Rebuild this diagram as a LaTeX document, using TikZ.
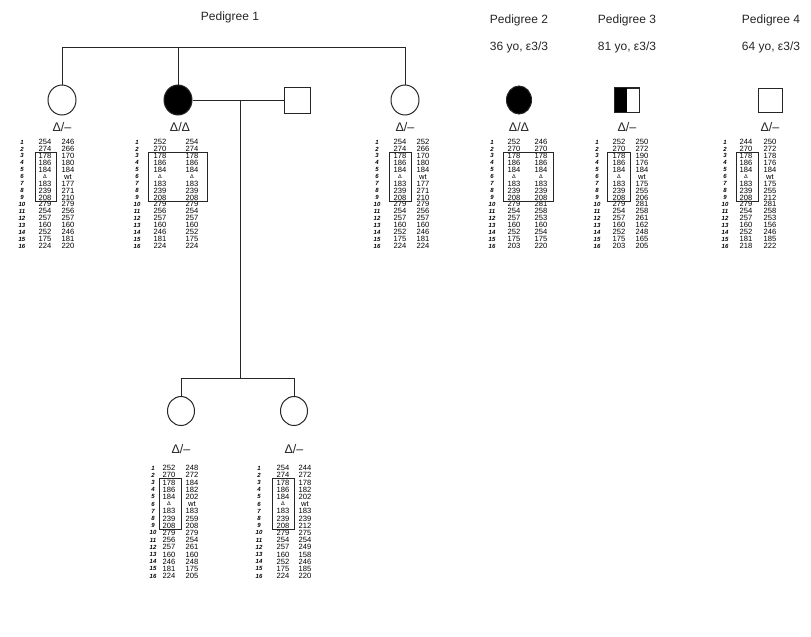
\documentclass[tikz,border=0pt]{standalone}
\usepackage{fontspec}
\setmainfont{Liberation Sans}
\usetikzlibrary{shapes.geometric}
\newcommand\dlt{{\fontsize{5.5}{6}\selectfont Δ}}
\newcommand\hapt[9]{%
  \foreach \a/\b [count=\i] in {#9} {
    \node[num] (#1n\i) at (#2, {#5+(\i-1)*#6}) {\i};
    \node[allele] (#1a\i) at (#3, {#5+(\i-1)*#6}) {\a};
    \node[allele] (#1b\i) at (#4, {#5+(\i-1)*#6}) {\b};
  }
  \draw[hbox] (#7,{#5+1.5*#6}) rectangle (#8,{#5+8.5*#6});
}
\tikzset{
  ped/.style={line width=1pt, draw=black!85},
  fem/.style={ellipse, draw=black!85, line width=1pt, minimum width=28pt, minimum height=30pt, inner sep=0pt},
  male/.style={rectangle, draw=black!85, line width=1pt, minimum width=26pt, minimum height=26pt, inner sep=0pt},
  title/.style={font=\fontsize{12}{13}\selectfont, inner sep=0pt, text=black!85},
  geno/.style={font=\fontsize{12.5}{13}\selectfont, inner sep=0pt, text=black!85},
  num/.style={font=\fontsize{6}{6}\selectfont\bfseries\itshape, inner sep=0pt},
  allele/.style={font=\fontsize{7.6}{7}\selectfont, inner sep=0pt},
  hbox/.style={line width=0.8pt, draw=black!85},
}
\begin{document}
\begin{tikzpicture}[x=1pt, y=-1pt]
\useasboundingbox[fill=white] (0,0) rectangle (811,637);

% titles
\node[title] (t1) at (230,17) {Pedigree 1};
\node[title] (t2) at (519,20) {Pedigree 2};
\node[title] (t3) at (627,20) {Pedigree 3};
\node[title] (t4) at (771,20) {Pedigree 4};
\node[title] (a2) at (519,47) {36 yo, ε3/3};
\node[title] (a3) at (627,47) {81 yo, ε3/3};
\node[title] (a4) at (771,47) {64 yo, ε3/3};

% Pedigree 1, generation II
\node[fem] (II1) at (62,100) {};
\node[fem, fill=black] (II2) at (178,100) {};
\node[male] (II3) at (297,100) {};
\node[fem] (II4) at (405,100) {};
\coordinate (sibL) at (62,47);
\coordinate (sibM) at (178,47);
\coordinate (sibR) at (405,47);
\draw[ped] (II1.north) -- (sibL) -- (sibR) -- (II4.north);
\draw[ped] (sibM) -- (II2.north);
\draw[ped] (II2.east) -- (II3.west);
\coordinate (mar) at (240,100);
\coordinate (des) at (240,378);
\draw[ped] (mar) -- (des);

% generation III
\node[fem, minimum width=27pt, minimum height=29pt] (III1) at (181,411) {};
\node[fem, minimum width=27pt, minimum height=29pt] (III2) at (294,411) {};
\coordinate (s3L) at (181,378);
\coordinate (s3R) at (294,378);
\draw[ped] (III1.north) -- (s3L) -- (s3R) -- (III2.north);

% other pedigrees
\node[fem, fill=black, minimum width=25pt, minimum height=28pt] (P2) at (519,100) {};
\node[male, minimum width=24pt, minimum height=24pt] (P3) at (627,100) {};
\fill (P3.north west) rectangle (P3.south);
\draw[line width=1pt, draw=black!85] (P3.north west) rectangle (P3.south east);
\node[male, minimum width=24pt, minimum height=24pt] (P4) at (770,100) {};

% genotype labels
\node[geno] (g1) at (62,127) {Δ/–};
\node[geno] (g2) at (180,127) {Δ/Δ};
\node[geno] (g4) at (405,127) {Δ/–};
\node[geno] (gP2) at (519,127) {Δ/Δ};
\node[geno] (gP3) at (627,127) {Δ/–};
\node[geno] (gP4) at (770,127) {Δ/–};
\node[geno] (g31) at (181,449) {Δ/–};
\node[geno] (g32) at (294,449) {Δ/–};

% haplotype tables
\hapt{A}{22}{45}{68}{142}{6.93}{35}{56}{254/246,274/266,178/170,186/180,184/184,\dlt/wt,183/177,239/271,208/210,279/279,254/256,257/257,160/160,252/246,175/181,224/220}
\hapt{B}{137}{160}{192}{142}{6.93}{148}{207}{252/254,270/274,178/178,186/186,184/184,\dlt/\dlt,183/183,239/239,208/208,279/279,256/254,257/257,160/160,246/252,181/175,224/224}
\hapt{C}{377}{400}{423}{142}{6.93}{389}{411}{254/252,274/266,178/170,186/180,184/184,\dlt/wt,183/177,239/271,208/210,279/279,254/256,257/257,160/160,252/246,175/181,224/224}
\hapt{D}{492}{514}{541}{142}{6.93}{503}{553}{252/246,270/270,178/178,186/186,184/184,\dlt/\dlt,183/183,239/239,208/208,279/281,254/258,257/253,160/160,252/254,175/175,203/220}
\hapt{E}{597}{619}{642}{142}{6.93}{607}{630}{252/250,270/272,178/190,186/176,184/184,\dlt/wt,183/175,239/255,208/206,279/281,254/258,257/261,160/162,252/248,175/165,203/205}
\hapt{F}{725}{746}{770}{142}{6.93}{736}{758}{244/250,270/272,178/178,186/176,184/184,\dlt/wt,183/175,239/255,208/212,279/281,254/258,257/253,160/156,252/246,181/185,218/222}
\hapt{G}{153}{169}{192}{468}{7.2}{159}{181}{252/248,270/272,178/184,186/182,184/202,\dlt/wt,183/183,239/259,208/208,279/279,256/254,257/261,160/160,246/248,181/175,224/205}
\hapt{H}{259}{283}{305}{468}{7.2}{272}{294}{254/244,274/272,178/178,186/182,184/202,\dlt/wt,183/183,239/239,208/212,279/275,254/254,257/249,160/158,252/246,175/185,224/220}
\end{tikzpicture}
\end{document}
